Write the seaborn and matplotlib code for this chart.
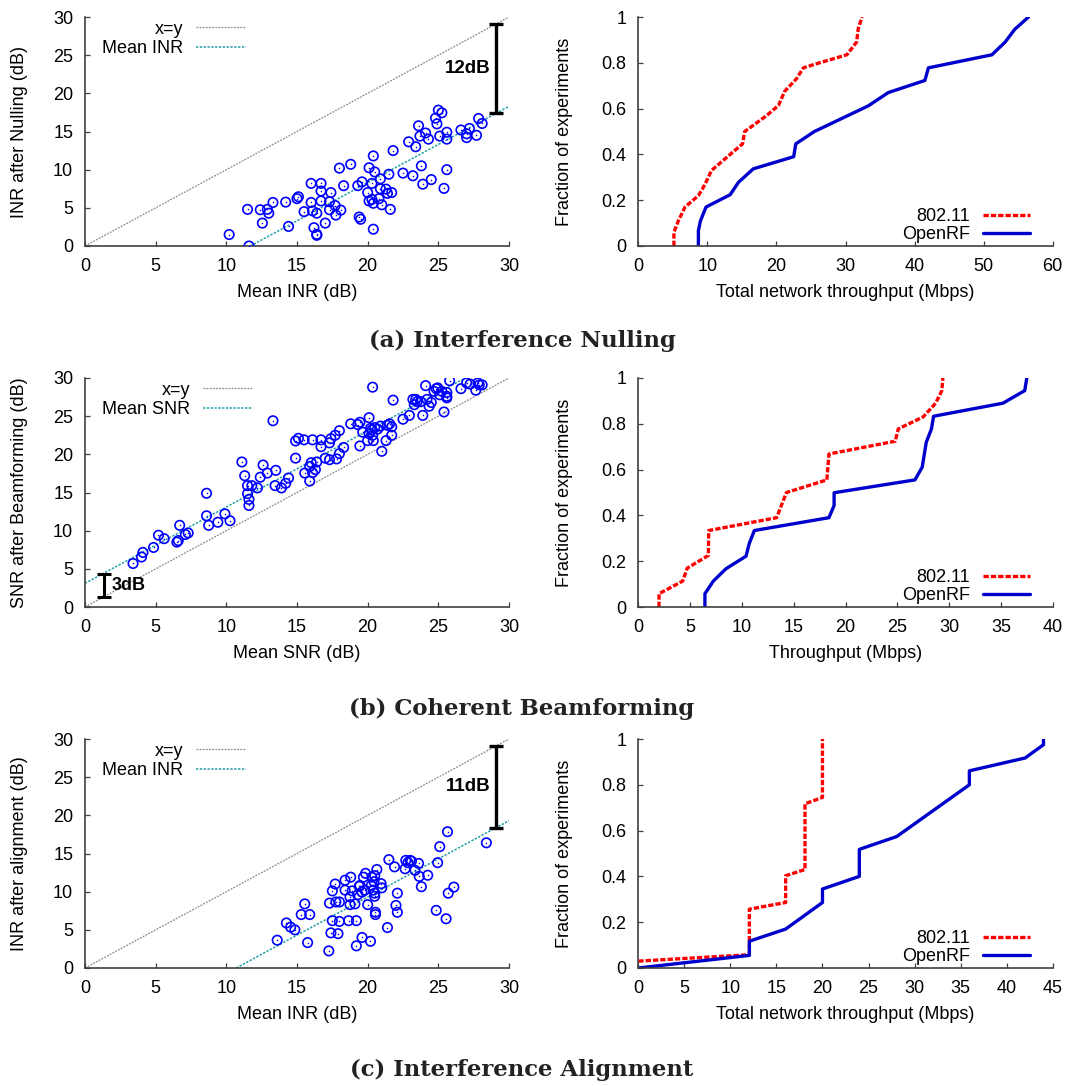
import numpy as np
import pandas as pd
import matplotlib
matplotlib.use("Agg")
import matplotlib.pyplot as plt
import seaborn as sns
from matplotlib.ticker import FuncFormatter

# ---------------- data ----------------
# (a) Interference nulling scatter
nulling_mean_inr = [10.2, 11.6, 11.5, 12.4, 12.55, 12.9, 13.0, 13.3, 14.2, 14.4, 15.0, 15.1, 15.5, 16.0,
                    16.0, 16.1, 16.2, 16.4, 16.4, 16.4, 16.7, 16.7, 16.7, 17.0, 17.3, 17.3, 17.4, 17.7,
                    17.75, 18.1, 18.0, 18.3, 18.8, 19.3, 19.4, 19.5, 19.6, 20.0, 20.1, 20.1, 20.3, 20.3,
                    20.4, 20.4, 20.4, 20.5, 20.8, 20.9, 20.9, 21.0, 21.3, 21.4, 21.5, 21.7, 21.6, 21.8,
                    22.5, 22.9, 23.2, 23.4, 23.6, 23.7, 23.8, 23.9, 24.1, 24.3, 24.5, 24.8, 24.9, 25.0,
                    25.25, 25.1, 25.4, 25.6, 25.6, 25.6, 26.6, 27.0, 27.0, 27.2, 27.7, 27.85, 28.1]
nulling_inr_after = [1.5, 0.0, 4.8, 4.75, 3.0, 4.8, 4.3, 5.7, 5.75, 2.57, 6.2, 6.45, 4.5, 8.2,
                     5.7, 4.6, 2.4, 1.53, 1.4, 4.3, 8.2, 7.2, 5.9, 3.0, 4.75, 5.8, 7.0, 5.3,
                     4.05, 4.7, 10.2, 7.9, 10.7, 7.9, 3.8, 3.5, 8.4, 7.0, 5.9, 10.25, 8.2, 6.1,
                     11.8, 5.6, 2.2, 9.7, 6.2, 8.8, 7.5, 5.4, 7.45, 6.9, 9.4, 7.0, 4.8, 12.5,
                     9.55, 13.65, 9.2, 13.0, 15.75, 14.4, 10.5, 8.1, 14.8, 14.0, 8.7, 16.75, 16.0, 17.8,
                     17.45, 14.4, 7.55, 10.0, 14.9, 14.0, 15.2, 14.7, 14.2, 15.4, 14.5, 16.7, 16.05]
nulling_mean_offset = -11.7
nulling_gap_db = 12

# (b) Coherent beamforming scatter
beam_mean_snr = [3.4, 4.0, 4.1, 4.85, 5.2, 5.6, 6.5, 6.6, 6.7, 7.1, 7.3, 8.6, 8.6, 8.75, 9.4, 9.9, 10.26,
                 11.1, 11.3, 11.5, 11.5, 11.6, 11.6, 11.8, 12.2, 12.4, 12.6, 12.9, 13.3, 13.5, 13.45,
                 13.9, 14.2, 14.4, 14.9, 14.9, 15.1, 15.5, 15.55, 15.9, 15.9, 16.0, 16.1, 16.3, 16.4,
                 16.1, 16.7, 16.7, 17.0, 17.3, 17.3, 17.4, 17.7, 17.8, 18.0, 18.0, 18.3, 18.8, 19.3,
                 19.45, 19.45, 19.65, 20.0, 20.1, 20.1, 20.2, 20.3, 20.35, 20.35, 20.4, 20.5, 20.7,
                 20.9, 21.0, 21.3, 21.4, 21.55, 21.7, 21.7, 21.8, 22.5, 22.95, 23.2, 23.3, 23.4, 23.5,
                 23.75, 23.9, 24.1, 24.2, 24.35, 24.5, 24.7, 24.85, 24.96, 25.1, 25.25, 25.4, 25.6,
                 25.6, 25.6, 25.8, 26.6, 27.0, 27.25, 27.65, 27.8, 27.9, 28.1]
beam_snr_after = [5.7, 6.55, 7.15, 7.8, 9.4, 8.95, 8.5, 8.7, 10.7, 9.5, 9.7, 14.9, 11.95, 10.7, 11.1, 12.2, 11.3,
                  19.0, 17.2, 15.9, 14.85, 14.1, 13.3, 15.9, 15.6, 17.0, 18.6, 17.55, 24.4, 17.9, 15.9,
                  15.6, 16.2, 16.9, 19.5, 21.75, 22.1, 21.9, 17.55, 16.5, 18.4, 18.9, 17.6, 18.0, 19.0,
                  21.9, 21.9, 21.0, 19.5, 19.3, 21.5, 22.05, 22.5, 19.4, 23.1, 20.1, 20.9, 24.0, 23.9,
                  24.2, 21.1, 22.9, 21.8, 22.7, 24.8, 23.4, 23.2, 28.8, 22.5, 21.8, 23.5, 23.3,
                  23.7, 20.4, 21.8, 23.8, 24.0, 23.6, 22.5, 27.1, 24.6, 25.1, 27.2, 26.5, 27.2, 26.9,
                  26.9, 25.1, 29.0, 27.2, 26.3, 26.8, 28.25, 28.6, 28.7, 27.8, 28.25, 25.55, 28.1,
                  27.4, 27.6, 29.65, 28.6, 29.35, 29.2, 28.4, 29.35, 29.1, 29.1]
beam_mean_offset = 3.1
beam_gap_db = 3

# (c) Interference alignment scatter
align_mean_inr = [13.6, 14.25, 14.55, 14.85, 15.3, 15.55, 15.75, 15.9, 17.25, 17.3, 17.4, 17.5, 17.5, 17.7,
                  17.75, 17.9, 18.0, 18.0, 18.4, 18.4, 18.65, 18.75, 18.75, 18.8, 18.9, 19.1, 19.2, 19.2,
                  19.3, 19.4, 19.45, 19.6, 19.6, 19.7, 19.8, 19.85, 20.0, 20.2, 20.25, 20.3, 20.4, 20.45,
                  20.5, 20.5, 20.5, 20.55, 20.55, 20.65, 20.95, 21.0, 21.4, 21.5, 21.9, 22.0, 22.1, 22.1,
                  22.65, 22.7, 22.85, 23.0, 23.1, 23.35, 23.6, 23.65, 23.8, 24.25, 24.85, 24.95, 25.1,
                  25.55, 25.65, 25.7, 26.1, 28.4]
align_inr_after = [3.64, 5.9, 5.35, 5.0, 7.0, 8.4, 3.33, 7.0, 2.24, 8.5, 4.6, 6.2, 10.1, 11.0,
                   8.65, 4.5, 8.65, 6.1, 10.2, 11.5, 6.2, 8.3, 9.3, 11.9, 10.1, 8.4, 6.2, 2.9,
                   9.6, 10.7, 10.8, 4.0, 9.95, 11.9, 10.2, 12.4, 8.3, 3.5, 10.8, 11.9, 10.2, 11.3,
                   12.1, 9.8, 9.4, 7.3, 7.0, 12.9, 11.05, 10.5, 5.3, 14.2, 13.25, 8.2, 9.8, 7.3,
                   13.0, 14.1, 13.8, 14.1, 14.0, 12.8, 13.7, 12.0, 10.65, 12.15, 7.55, 13.8, 15.9,
                   6.45, 17.85, 9.8, 10.6, 16.4]
align_mean_offset = -10.7
align_gap_db = 11

# CDFs (throughput, fraction)
cdf_a_80211_x = [5.16, 5.16, 5.8, 6.76, 8.7, 9.3, 9.9, 10.6, 13.3, 15.1, 15.4, 16.6, 18.6, 20.3, 21.2,
                 22.9, 23.9, 25.8, 30.2, 31.6, 31.85, 32.4]
cdf_a_80211_y = [0.0, 0.06, 0.11, 0.17, 0.22, 0.25, 0.285, 0.33, 0.40, 0.446, 0.50, 0.526, 0.57, 0.614,
                 0.676, 0.73, 0.778, 0.796, 0.835, 0.89, 0.95, 1.0]
cdf_a_openrf_x = [8.7, 8.7, 9.0, 9.8, 13.3, 14.5, 16.65, 22.5, 22.8, 25.5, 33.3, 36.2, 41.5, 42.0, 51.2,
                  53.1, 54.5, 56.5]
cdf_a_openrf_y = [0.0, 0.067, 0.11, 0.17, 0.224, 0.278, 0.337, 0.39, 0.446, 0.50, 0.612, 0.67, 0.723,
                  0.778, 0.835, 0.89, 0.946, 1.0]

cdf_b_80211_x = [2.0, 2.0, 4.28, 4.73, 6.76, 6.8, 13.35, 14.3, 18.2, 18.4, 24.8, 25.1, 27.5, 28.7, 29.3, 29.4]
cdf_b_80211_y = [0.0, 0.058, 0.113, 0.17, 0.225, 0.334, 0.39, 0.50, 0.555, 0.668, 0.724, 0.778, 0.83,
                 0.89, 0.945, 1.0]
cdf_b_openrf_x = [6.43, 6.43, 7.24, 8.46, 10.4, 10.7, 11.2, 18.4, 18.9, 18.9, 26.7, 27.4, 27.8, 28.3,
                  28.5, 35.2, 37.3, 37.5]
cdf_b_openrf_y = [0.0, 0.058, 0.113, 0.167, 0.222, 0.276, 0.334, 0.39, 0.443, 0.499, 0.555, 0.61, 0.72,
                  0.778, 0.833, 0.89, 0.945, 1.0]

cdf_c_80211_x = [0.0, 12.06, 12.06, 16.0, 16.0, 18.1, 18.1, 20.0, 20.0]
cdf_c_80211_y = [0.03, 0.058, 0.257, 0.286, 0.403, 0.43, 0.717, 0.745, 1.0]
cdf_c_openrf_x = [0.0, 12.06, 12.06, 16.0, 20.0, 20.0, 24.0, 24.0, 28.06, 35.95, 35.95, 42.0, 44.0, 44.0]
cdf_c_openrf_y = [0.0, 0.055, 0.117, 0.17, 0.286, 0.345, 0.40, 0.518, 0.574, 0.80, 0.861, 0.917, 0.975, 1.0]

captions = ["(a) Interference Nulling", "(b) Coherent Beamforming", "(c) Interference Alignment"]
scatter_xlabels = ["Mean INR (dB)", "Mean SNR (dB)", "Mean INR (dB)"]
scatter_ylabels = ["INR after Nulling (dB)", "SNR after Beamforming (dB)", "INR after alignment (dB)"]
mean_legend = ["Mean INR", "Mean SNR", "Mean INR"]
cdf_xlabels = ["Total network throughput (Mbps)", "Throughput (Mbps)", "Total network throughput (Mbps)"]
cdf_xmax = [60, 40, 45]
cdf_xstep = [10, 5, 5]

# ---------------- style ----------------
sns.set_theme(style="ticks")
plt.rcParams['font.family'] = ['Liberation Sans', 'DejaVu Sans']
FS = 13
plt.rcParams['font.size'] = FS
plt.rcParams['text.color'] = 'black'
plt.rcParams['axes.labelcolor'] = 'black'
plt.rcParams['xtick.color'] = 'black'
plt.rcParams['ytick.color'] = 'black'
SPINE = "#404040"

fig = plt.figure(figsize=(10.66, 10.86), dpi=100)
W, H = 1066, 1086

def fig_axes(left_px, top_px, right_px, bottom_px):
    return fig.add_axes([left_px / W, 1 - bottom_px / H, (right_px - left_px) / W, (bottom_px - top_px) / H])

rows_top = [17, 378, 739]
row_h = 229

def style_axes(ax):
    for s in ["top", "right"]:
        ax.spines[s].set_visible(False)
    for s in ["left", "bottom"]:
        ax.spines[s].set_color(SPINE)
        ax.spines[s].set_linewidth(1.2)
    ax.tick_params(direction="in", length=3.5, width=0.9, color=SPINE, labelsize=FS,
                   labelcolor="black", pad=8.5)
    ax.grid(False)

def right_align_legend(leg):
    for col in leg._legend_handle_box.get_children():
        col.align = "right"
    for t in leg.get_texts():
        t.set_color("black")

scatter_sets = [
    (nulling_mean_inr, nulling_inr_after, nulling_mean_offset, nulling_gap_db),
    (beam_mean_snr, beam_snr_after, beam_mean_offset, beam_gap_db),
    (align_mean_inr, align_inr_after, align_mean_offset, align_gap_db),
]
cdf_sets = [
    (cdf_a_80211_x, cdf_a_80211_y, cdf_a_openrf_x, cdf_a_openrf_y),
    (cdf_b_80211_x, cdf_b_80211_y, cdf_b_openrf_x, cdf_b_openrf_y),
    (cdf_c_80211_x, cdf_c_80211_y, cdf_c_openrf_x, cdf_c_openrf_y),
]
caption_y = [341, 709, 1070]

for i in range(3):
    top = rows_top[i]
    bottom = top + row_h
    # ---------- scatter ----------
    ax = fig_axes(85, top, 509, bottom)
    mx, my, off, gap = scatter_sets[i]
    ref = pd.DataFrame({"x": [0, 30], "y": [0, 30]})
    sns.lineplot(data=ref, x="x", y="y", ax=ax, color="#8a8a8a", lw=0.9,
                 linestyle=(0, (1.5, 1.0)), label="x=y")
    x0 = max(0.0, -off)
    x1 = min(30.0, 30.0 - off)
    mline = pd.DataFrame({"x": [x0, x1], "y": [x0 + off, x1 + off]})
    sns.lineplot(data=mline, x="x", y="y", ax=ax, color="#1fa0a8", lw=1.1,
                 linestyle=(0, (1.5, 1.0)), label=mean_legend[i])
    df = pd.DataFrame({"x": mx, "y": my})
    sns.scatterplot(data=df, x="x", y="y", ax=ax, marker="o", s=46, facecolors="none",
                    edgecolors="#0000ff", linewidth=1.2, zorder=3)
    sns.scatterplot(data=df, x="x", y="y", ax=ax, marker="o", s=1.2, color="#0000ff",
                    linewidth=0, zorder=3)
    ax.set_xlim(0, 30)
    ax.set_ylim(0, 30)
    ax.set_xticks(range(0, 31, 5))
    ax.set_yticks(range(0, 31, 5))
    style_axes(ax)
    ax.set_xlabel(scatter_xlabels[i], fontsize=FS)
    ax.set_ylabel(scatter_ylabels[i], fontsize=FS)
    ax.yaxis.set_label_coords(-0.135, 0.5)
    ax.xaxis.set_label_coords(0.5, -0.165)
    leg = ax.legend(loc="upper left", frameon=False, markerfirst=False, fontsize=FS,
                    handlelength=2.8, handletextpad=0.67, labelspacing=0.12,
                    bbox_to_anchor=(0.024, 1.015), borderaxespad=0.0)
    right_align_legend(leg)
    # gap bar
    if i == 1:
        bx = 1.35
        lo, hi = bx, bx + gap
        ax.errorbar([bx], [(lo + hi) / 2], yerr=[(hi - lo) / 2], color="black", lw=2.2,
                    capsize=5, capthick=2.2, zorder=4)
        ax.text(bx + 0.55, (lo + hi) / 2, f"{gap}dB", fontsize=13, fontweight="bold",
                ha="left", va="center")
    else:
        bx = 29.1
        lo, hi = bx + off, bx
        ax.errorbar([bx], [(lo + hi) / 2], yerr=[(hi - lo) / 2], color="black", lw=2.4,
                    capsize=5, capthick=2.4, zorder=4)
        ax.text(bx - 0.4, (lo + hi) / 2, f"{gap}dB", fontsize=13.5, fontweight="bold",
                ha="right", va="center")

    # ---------- CDF ----------
    ax2 = fig_axes(638.3, top, 1052.7, bottom)
    ax_, ay_, bx_, by_ = cdf_sets[i]
    d1 = pd.DataFrame({"x": ax_, "y": ay_})
    d2 = pd.DataFrame({"x": bx_, "y": by_})
    sns.lineplot(data=d1, x="x", y="y", ax=ax2, sort=False, estimator=None, color="#ff0000",
                 lw=2.4, linestyle=(0, (1.6, 0.6)), label="802.11")
    sns.lineplot(data=d2, x="x", y="y", ax=ax2, sort=False, estimator=None, color="#0000cc",
                 lw=2.4, label="OpenRF")
    ax2.set_xlim(0, cdf_xmax[i])
    ax2.set_ylim(0, 1)
    ax2.set_xticks(np.arange(0, cdf_xmax[i] + 0.1, cdf_xstep[i]))
    ax2.set_yticks(np.arange(0, 1.01, 0.2))
    ax2.yaxis.set_major_formatter(FuncFormatter(lambda v, p: f"{v:g}"))
    ax2.xaxis.set_major_formatter(FuncFormatter(lambda v, p: f"{v:g}"))
    style_axes(ax2)
    ax2.set_xlabel(cdf_xlabels[i], fontsize=FS)
    ax2.set_ylabel("Fraction of experiments", fontsize=FS)
    ax2.yaxis.set_label_coords(-0.158, 0.5)
    ax2.xaxis.set_label_coords(0.5, -0.165)
    leg2 = ax2.legend(loc="lower right", frameon=False, markerfirst=False, fontsize=FS,
                      handlelength=2.6, handletextpad=0.7, labelspacing=0.05,
                      bbox_to_anchor=(0.962, -0.02), borderaxespad=0.0)
    right_align_legend(leg2)

    fig.text(522 / W, 1 - caption_y[i] / H, captions[i], ha="center", va="center",
             fontsize=16.4, fontweight="bold", family="DejaVu Serif", color="#222222")

fig.savefig("out.png", dpi=100)
